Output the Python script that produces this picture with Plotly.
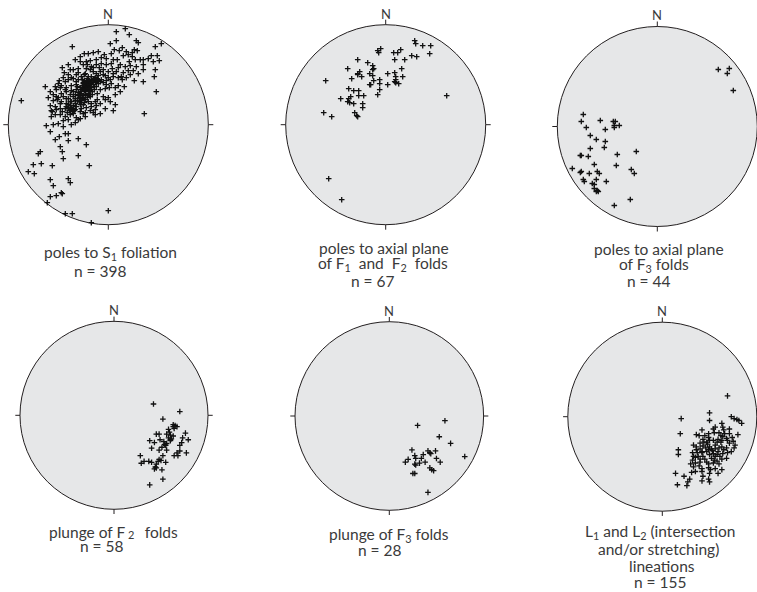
import plotly.graph_objects as go

W, H = 757, 592

# ---------------- data: projected positions (east, north), % of net radius ----------------
S1_POLES = [
    (17, 96), (8, 93), (21, 90), (28, 84), (30, 82), (2, 81), (8, 84), (53, 81), (47, 78), (26, 75),
    (29, 74), (18, 73), (11, 74), (-10, 73), (-15, 72), (-24, 71), (-20, 71), (3, 71), (15, 69), (20, 70),
    (24, 68), (43, 69), (49, 69), (51, 64), (45, 63), (35, 65), (32, 65), (27, 65), (21, 63), (9, 65),
    (5, 65), (-2, 66), (-7, 67), (-12, 65), (-18, 64), (-22, 63), (-28, 63), (-33, 65), (-46, 57), (-38, 55),
    (-35, 55), (-30, 56), (-25, 60), (-21, 60), (-17, 58), (-12, 60), (-7, 61), (-2, 60), (3, 61), (12, 60),
    (17, 58), (22, 59), (25, 54), (20, 54), (15, 52), (35, 55), (47, 55), (46, 48), (35, 43), (26, 44),
    (14, 45), (10, 47), (5, 48), (0, 53), (-5, 55), (-8, 53), (-12, 51), (-15, 53), (-18, 55), (-23, 51),
    (-27, 48), (-30, 45), (-35, 46), (-40, 50), (-43, 43), (-49, 44), (-63, 38), (-53, 38), (-47, 39), (-42, 37),
    (-37, 39), (-32, 40), (-25, 41), (-20, 43), (-17, 45), (-12, 45), (-7, 45), (-2, 44), (3, 41), (7, 37),
    (10, 39), (1, 37), (-3, 36), (-8, 35), (-12, 38), (-17, 37), (-21, 36), (-23, 33), (-27, 35), (-32, 35),
    (-37, 34), (-42, 33), (-47, 31), (-52, 35), (-55, 30), (-50, 27), (-45, 28), (-40, 26), (-35, 28), (-30, 29),
    (-25, 27), (-21, 29), (-16, 30), (-11, 31), (-5, 28), (0, 27), (7, 30), (12, 33), (16, 38), (48, 33),
    (7, 20), (2, 23), (-3, 25), (-8, 21), (-12, 19), (-17, 18), (-22, 17), (-25, 20), (-29, 23), (-33, 21),
    (-38, 23), (-42, 21), (-47, 23), (-51, 25), (-55, 24), (-58, 19), (-53, 18), (-48, 16), (-43, 16), (-38, 17),
    (-33, 15), (-28, 13), (-23, 12), (-18, 14), (-13, 15), (-8, 11), (-13, 10), (-23, 8), (-28, 6), (-32, 7),
    (-38, 10), (-43, 8), (-48, 10), (-53, 10), (-57, 8), (-45, 4), (-40, 5), (-33, 2), (-55, 0), (-50, 1),
    (-62, -1), (36, 11), (-87, 24), (-36, 78),
    (-58, -7), (-43, -9), (-40, -9), (-49, -12), (-53, -15), (-30, -14), (-40, -16), (-48, -22), (-22, -20), (-46, -27),
    (-68, -27), (-70, -29), (-30, -31), (-45, -34), (-75, -40), (-67, -39), (-56, -41), (-19, -41), (-80, -47), (-74, -49),
    (-58, -55), (-40, -54), (-38, -58), (-55, -61), (-58, -72), (-52, -71), (-47, -68), (-46, -69), (-61, -78), (-43, -89),
    (-36, -89), (0, -86), (-17, -98),
    (-23, 40), (-20, 39), (-22, 35), (-25, 37), (-19, 34), (-28, 37), (-18, 41), (-15, 40), (-27, 31), (-30, 32),
    (-22, 43), (-26, 45), (-21, 46), (-17, 48), (-33, 26), (-37, 23), (-40, 20), (-42, 18), (-38, 15), (-35, 19),
    (-32, 18), (-28, 20), (-27, 16), (-33, 30), (-38, 30), (-42, 26), (-28, 26), (-23, 25), (-20, 23), (-17, 21),
    (-13, 23), (-11, 25), (-18, 28), (-14, 35), (-10, 41), (-8, 43), (-5, 42), (-2, 40), (2, 45), (5, 51),
    (8, 53), (-10, 49), (-13, 47), (-3, 49), (-32, 50), (-37, 47), (-40, 45), (-45, 47), (-43, 35), (-48, 37),
    (-52, 28), (-48, 21), (-52, 15), (-56, 13), (-32, 43),
    (-24, 34), (-20, 31), (-26, 29), (-19, 37), (-23, 30), (-21, 27), (-28, 33), (-16, 33), (-25, 36), (-18, 30),
    (-22, 38), (-30, 30), (-27, 24), (-24, 22), (-33, 24), (-35, 33), (-31, 38), (-14, 38), (-12, 42), (-16, 44),
    (-20, 48), (-24, 50), (-30, 52), (-22, 56), (-15, 57), (-9, 57), (-5, 50), (0, 47), (4, 56), (10, 57),
    (13, 48), (18, 47), (22, 50), (30, 51), (28, 58), (35, 60), (40, 66), (24, 72), (14, 77), (6, 75),
    (-4, 70), (-28, 68), (-40, 60), (-44, 52), (-50, 41), (-58, 33), (-60, 27), (-57, 14), (-46, 13), (-35, 11),
    (-25, 11), (-15, 12), (-3, 16), (5, 14), (-45, -2), (-37, 0), (-30, 5),
    (-21, 38), (-23, 41), (-20, 42), (-24, 38), (-22, 36), (-19, 40), (-25, 42), (-21, 44), (-18, 37), (-26, 39),
    (-23, 35), (-20, 36), (-24, 44), (-17, 42), (-37, 17), (-39, 14), (-36, 13), (-40, 17), (-35, 16), (-41, 12),
    (-38, 19), (-34, 14), (-11, 46), (-13, 43), (-10, 44), (-14, 46), (-29, 27), (-31, 24), (-27, 22), (-26, 26),
]

F12_AXIAL_POLES = [
    (29, 84), (30, 81), (37, 79), (45, 79), (44, 71), (26, 69), (31, 68), (19, 65), (15, 75), (12, 72),
    (8, 72), (9, 65), (-5, 76), (-8, 74), (-7, 72), (-18, 62), (-13, 59), (-12, 56), (-28, 65), (-38, 56),
    (-34, 46), (-28, 51), (-26, 53), (-28, 50), (-24, 48), (-16, 51), (-13, 49), (-12, 44), (-16, 40), (-15, 40),
    (-6, 45), (-6, 41), (-6, 35), (-8, 30), (2, 51), (2, 40), (9, 52), (10, 48), (16, 56), (17, 48),
    (9, 43), (10, 42), (13, 41), (-60, 44), (-37, 36), (-32, 34), (-27, 34), (-27, 29), (-22, 29), (-45, 26),
    (-37, 26), (-38, 23), (-36, 22), (-32, 21), (-23, 21), (-23, 17), (-31, 12), (-29, 9), (-28, 8), (-62, 12),
    (-54, 8), (61, 29), (-57, -54), (-44, -75), (-13, 55), (10, 45), (-35, 28),
]

F3_AXIAL_POLES = [
    (61, 57), (72, 58), (70, 53), (76, 36),
    (-74, 12), (-76, 5), (-71, -1), (-57, 6), (-44, 5), (-42, 5), (-43, 1), (-43, -1), (-38, 1), (-52, -3),
    (-67, -9), (-61, -13), (-52, -15), (-53, -21), (-67, -22), (-77, -29), (-76, -29), (-69, -30), (-40, -28), (-21, -25),
    (-63, -38), (-41, -39), (-85, -42), (-76, -45), (-77, -46), (-68, -47), (-60, -45), (-58, -47), (-26, -43), (-23, -47),
    (-74, -53), (-73, -55), (-65, -57), (-63, -58), (-61, -53), (-51, -55), (-63, -62), (-60, -64), (-59, -65), (-61, -65),
    (-27, -73), (-43, -79),
]

F2_PLUNGES = [
    (42, 12), (70, 4), (52, -4), (63, -10), (65, -11), (67, -12), (64, -14), (58, -15), (56, -20), (45, -20),
    (48, -20), (63, -22), (61, -25), (60, -26), (60, -27), (76, -19), (73, -24), (79, -26), (38, -27), (43, -29),
    (53, -28), (54, -31), (56, -30), (55, -32), (70, -32), (40, -35), (48, -37), (56, -37), (70, -38), (77, -40),
    (64, -43), (68, -43), (28, -43), (52, -43), (48, -47), (47, -49), (50, -48), (37, -49), (32, -49), (29, -51),
    (55, -50), (44, -55), (45, -56), (43, -57), (51, -58), (52, -68), (38, -74), (60, -21), (58, -24), (49, -26),
    (63, -12), (51, -34), (59, -18), (45, -52), (40, -50), (67, -40), (72, -29),
]

F3_PLUNGES = [
    (59, -5), (30, -10), (53, -22), (65, -29), (80, -43), (24, -36), (41, -37), (49, -37), (43, -39), (44, -40),
    (36, -41), (27, -42), (28, -45), (34, -45), (20, -46), (50, -45), (54, -49), (17, -49), (38, -49), (32, -50),
    (27, -51), (43, -55), (45, -57), (47, -58), (25, -61), (27, -61), (41, -81), (28, -52),
]

L12_LINEATIONS = [
    (69, 22), (20, -2), (50, 4), (50, -4), (73, 0), (76, -2), (79, -3), (81, -4), (84, -7), (19, -18),
    (63, -7), (64, -11), (42, -14), (54, -13), (56, -11), (36, -19), (39, -20), (49, -18), (60, -17), (66, -18),
    (71, -18), (80, -19), (64, -21), (68, -23), (59, -24), (50, -25), (54, -25), (43, -24), (40, -28), (47, -27),
    (62, -27), (71, -28), (75, -26), (17, -35), (33, -30), (36, -32), (43, -31), (50, -32), (56, -30), (63, -32),
    (68, -33), (77, -30), (17, -40), (36, -35), (42, -37), (47, -37), (54, -39), (59, -37), (64, -39), (73, -37),
    (33, -42), (32, -46), (38, -42), (43, -42), (50, -40), (56, -42), (61, -42), (68, -44), (40, -48), (47, -48),
    (54, -49), (60, -50), (35, -49), (33, -53), (42, -55), (49, -54), (56, -55), (63, -56), (14, -60), (31, -59),
    (42, -58), (50, -60), (59, -60), (29, -66), (27, -69), (42, -68), (49, -66), (50, -69), (16, -72), (26, -73),
    (46, -33), (49, -35), (52, -34), (40, -34), (48, -29), (53, -36), (56, -34), (58, -27), (44, -27), (42, -38),
    (37, -38), (35, -43), (45, -45), (52, -44), (58, -40), (65, -35), (69, -25), (74, -22), (65, -14), (62, -20),
    (49, -22), (45, -20), (40, -45), (49, -50), (58, -47), (63, -45), (69, -38), (76, -33), (35, -58), (43, -63),
    (51, -56), (23, -63), (71, -13), (63, -25), (55, -17), (32, -38), (30, -50), (39, -52), (55, -46), (60, -33),
]

# ---------------- layout configuration (pixel geometry of each net) ----------------
PANELS = [
    dict(points=S1_POLES, cx=108.3, cy=124.7, r=100.0,
         captions=[("poles to S<sub>1</sub> foliation", 110.8, 252.5), ("n = 398", 100.3, 271)]),
    dict(points=F12_AXIAL_POLES, cx=385.7, cy=124.7, r=100.0,
         captions=[("poles to axial plane", 383.7, 247.7),
                   ("of F<sub>1</sub>  and  F<sub>2</sub>  folds", 383.3, 264.3), ("n = 67", 372.8, 281)]),
    dict(points=F3_AXIAL_POLES, cx=657.3, cy=126.5, r=100.0,
         captions=[("poles to axial plane", 659, 249),
                   ("of F<sub>3</sub> folds", 654, 264.5), ("n = 44", 649, 281)]),
    dict(points=F2_PLUNGES, cx=114.0, cy=415.3, r=94.0,
         captions=[("plunge of F     folds", 113, 531.5), ("n = 58", 102.5, 546)]),
    dict(points=F3_PLUNGES, cx=389.3, cy=416.0, r=94.3,
         captions=[("plunge of F<sub>3</sub> folds", 389, 535), ("n = 28", 380, 550)]),
    dict(points=L12_LINEATIONS, cx=662.3, cy=416.7, r=94.5,
         captions=[("L<sub>1</sub> and L<sub>2</sub> (intersection", 660, 532),
                   ("and/or stretching)", 658, 549), ("lineations", 662, 565.5), ("n = 155", 660, 582)]),
]

EXT = 112          # axis half-extent, % of net radius
TICK = 5           # tick length, % of net radius
FONT = "Lato, 'Open Sans', sans-serif"
TXT = "#3a3a3a"
NET_FILL = "#e6e7e8"
NET_LINE = "#231f20"

fig = go.Figure()
shapes, annotations = [], []
layout = {}

for i, p in enumerate(PANELS, start=1):
    cx, cy, r = p["cx"], p["cy"], p["r"]
    hw = r * EXT / 100
    left, right = max(0, cx - hw), min(W, cx + hw)
    top, bottom = max(0, cy - hw), min(H, cy + hw)
    xr = [(left - cx) / r * 100, (right - cx) / r * 100]
    yr = [(cy - bottom) / r * 100, (cy - top) / r * 100]
    sfx = "" if i == 1 else str(i)
    xa, ya = "x" + sfx, "y" + sfx
    layout["xaxis" + sfx] = dict(domain=[left / W, right / W], range=xr, visible=False,
                                 fixedrange=True, anchor=ya)
    layout["yaxis" + sfx] = dict(domain=[1 - bottom / H, 1 - top / H], range=yr, visible=False,
                                 fixedrange=True, anchor=xa)

    east = [e for e, n in p["points"]]
    north = [n for e, n in p["points"]]
    fig.add_trace(go.Scatter(
        x=east, y=north, xaxis=xa, yaxis=ya, mode="markers", showlegend=False,
        hoverinfo="skip",
        marker=dict(symbol="cross-thin", size=4, color="#111111",
                    line=dict(color="#111111", width=1.3)),
    ))

    shapes.append(dict(type="circle", xref=xa, yref=ya, x0=-100, y0=-100, x1=100, y1=100,
                       fillcolor=NET_FILL, line=dict(color=NET_LINE, width=1), layer="below"))
    for (x0, y0, x1, y1) in [(0, 100, 0, 100 + TICK), (0, -100, 0, -100 - TICK),
                             (-100, 0, -100 - TICK, 0), (100, 0, 100 + TICK, 0)]:
        shapes.append(dict(type="line", xref=xa, yref=ya, x0=x0, y0=y0, x1=x1, y1=y1,
                           line=dict(color=NET_LINE, width=1)))
    annotations.append(dict(text="N", xref=xa, yref=ya, x=0, y=102, xanchor="center",
                            yanchor="bottom", showarrow=False, borderpad=0,
                            font=dict(family=FONT, size=13, color=TXT)))
    for text, px, py in p["captions"]:
        annotations.append(dict(text=text, xref="paper", yref="paper", x=px / W, y=1 - py / H,
                                xanchor="center", yanchor="middle", showarrow=False,
                                font=dict(family=FONT, size=15.5, color=TXT)))

# misplaced subscript of the F2 caption, as printed in the original figure
annotations.append(dict(text="2", xref="paper", yref="paper", x=130.7 / W, y=1 - 534 / H,
                        xanchor="center", yanchor="middle", showarrow=False,
                        font=dict(family=FONT, size=11, color=TXT)))

fig.update_layout(
    width=W, height=H, margin=dict(l=0, r=0, t=0, b=0),
    paper_bgcolor="white", plot_bgcolor="white",
    shapes=shapes, annotations=annotations, **layout,
)

fig.write_html("out.html", config={"displayModeBar": False, "staticPlot": True},
               post_script="document.body.style.margin='0px';")
